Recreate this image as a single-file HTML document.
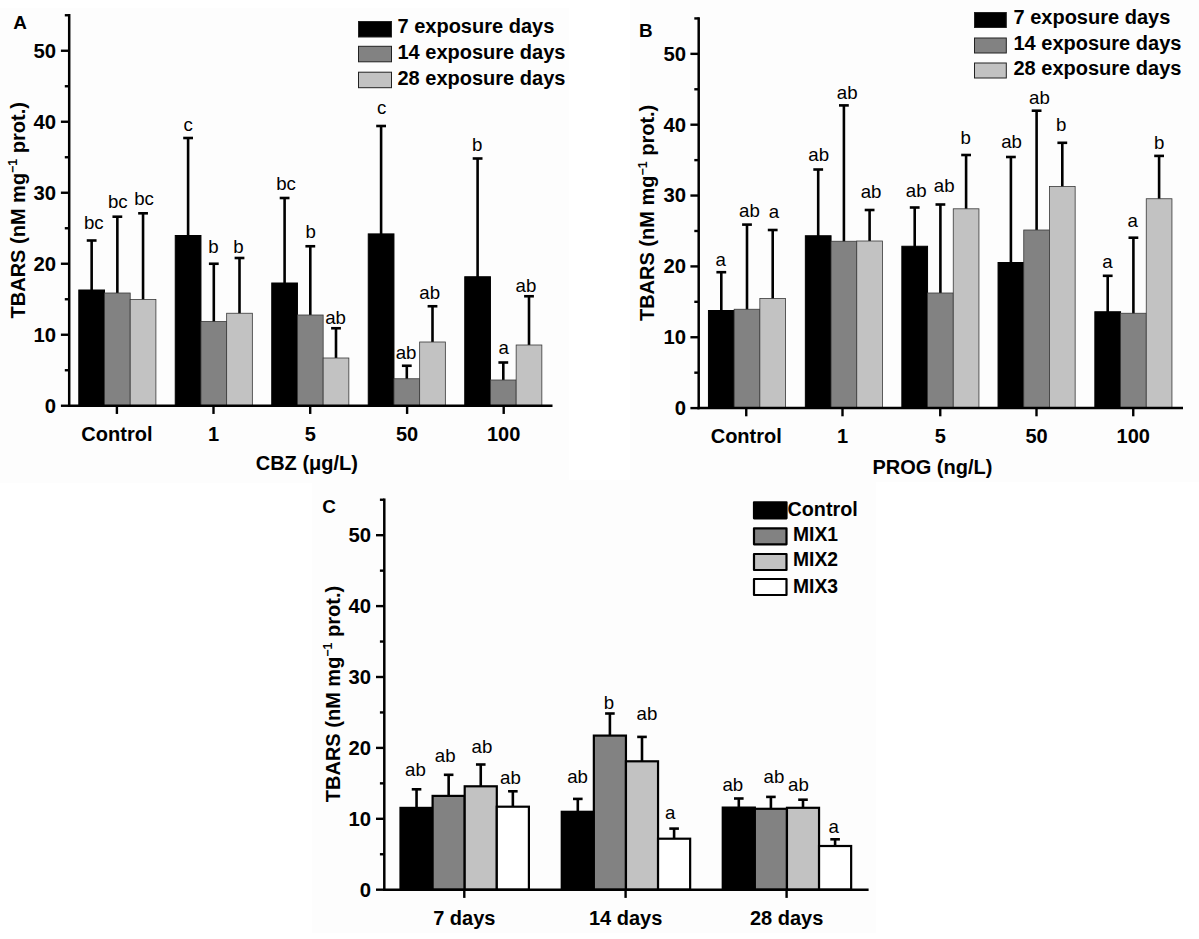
<!DOCTYPE html>
<html lang="en"><head><meta charset="utf-8"><title>TBARS figure</title>
<style>html,body{margin:0;padding:0;background:#fff}body{width:1199px;height:939px;overflow:hidden}svg{display:block;font-family:"Liberation Sans", sans-serif;fill:#000}</style></head><body>
<svg width="1199" height="939" viewBox="0 0 1199 939" role="img" aria-label="TBARS bar charts">
<rect x="0" y="0" width="1199" height="939" fill="#ffffff"/>
<g>
<rect x="0" y="8" width="569" height="475" fill="#fdfdfd"/>
<line x1="91.65" y1="240.5" x2="91.65" y2="292" stroke="#000" stroke-width="2.6"/>
<line x1="86.75" y1="240.5" x2="96.55" y2="240.5" stroke="#000" stroke-width="2.6"/>
<rect x="78.8" y="290" width="25.7" height="115.75" fill="#000000" stroke="#000" stroke-width="1"/>
<line x1="117.35" y1="216.7" x2="117.35" y2="295" stroke="#000" stroke-width="2.6"/>
<line x1="112.45" y1="216.7" x2="122.25" y2="216.7" stroke="#000" stroke-width="2.6"/>
<rect x="104.5" y="293" width="25.7" height="112.75" fill="#828282" stroke="#383838" stroke-width="0.8"/>
<line x1="143.05" y1="213.3" x2="143.05" y2="301.5" stroke="#000" stroke-width="2.6"/>
<line x1="138.15" y1="213.3" x2="147.95" y2="213.3" stroke="#000" stroke-width="2.6"/>
<rect x="130.2" y="299.5" width="25.7" height="106.25" fill="#c2c2c2" stroke="#383838" stroke-width="0.8"/>
<line x1="188.1" y1="138" x2="188.1" y2="237.5" stroke="#000" stroke-width="2.6"/>
<line x1="183.2" y1="138" x2="193" y2="138" stroke="#000" stroke-width="2.6"/>
<rect x="175.25" y="235.5" width="25.7" height="170.25" fill="#000000" stroke="#000" stroke-width="1"/>
<line x1="213.8" y1="263.75" x2="213.8" y2="323.5" stroke="#000" stroke-width="2.6"/>
<line x1="208.9" y1="263.75" x2="218.7" y2="263.75" stroke="#000" stroke-width="2.6"/>
<rect x="200.95" y="321.5" width="25.7" height="84.25" fill="#828282" stroke="#383838" stroke-width="0.8"/>
<line x1="239.5" y1="258" x2="239.5" y2="315.25" stroke="#000" stroke-width="2.6"/>
<line x1="234.6" y1="258" x2="244.4" y2="258" stroke="#000" stroke-width="2.6"/>
<rect x="226.65" y="313.25" width="25.7" height="92.5" fill="#c2c2c2" stroke="#383838" stroke-width="0.8"/>
<line x1="284.6" y1="198" x2="284.6" y2="285" stroke="#000" stroke-width="2.6"/>
<line x1="279.7" y1="198" x2="289.5" y2="198" stroke="#000" stroke-width="2.6"/>
<rect x="271.75" y="283" width="25.7" height="122.75" fill="#000000" stroke="#000" stroke-width="1"/>
<line x1="310.3" y1="246.25" x2="310.3" y2="317" stroke="#000" stroke-width="2.6"/>
<line x1="305.4" y1="246.25" x2="315.2" y2="246.25" stroke="#000" stroke-width="2.6"/>
<rect x="297.45" y="315" width="25.7" height="90.75" fill="#828282" stroke="#383838" stroke-width="0.8"/>
<line x1="336" y1="328.25" x2="336" y2="360" stroke="#000" stroke-width="2.6"/>
<line x1="331.1" y1="328.25" x2="340.9" y2="328.25" stroke="#000" stroke-width="2.6"/>
<rect x="323.15" y="358" width="25.7" height="47.75" fill="#c2c2c2" stroke="#383838" stroke-width="0.8"/>
<line x1="381.1" y1="126" x2="381.1" y2="235.9" stroke="#000" stroke-width="2.6"/>
<line x1="376.2" y1="126" x2="386" y2="126" stroke="#000" stroke-width="2.6"/>
<rect x="368.25" y="233.9" width="25.7" height="171.85" fill="#000000" stroke="#000" stroke-width="1"/>
<line x1="406.8" y1="365.75" x2="406.8" y2="380.75" stroke="#000" stroke-width="2.6"/>
<line x1="401.9" y1="365.75" x2="411.7" y2="365.75" stroke="#000" stroke-width="2.6"/>
<rect x="393.95" y="378.75" width="25.7" height="27" fill="#828282" stroke="#383838" stroke-width="0.8"/>
<line x1="432.5" y1="306.25" x2="432.5" y2="344" stroke="#000" stroke-width="2.6"/>
<line x1="427.6" y1="306.25" x2="437.4" y2="306.25" stroke="#000" stroke-width="2.6"/>
<rect x="419.65" y="342" width="25.7" height="63.75" fill="#c2c2c2" stroke="#383838" stroke-width="0.8"/>
<line x1="477.6" y1="158.5" x2="477.6" y2="278.75" stroke="#000" stroke-width="2.6"/>
<line x1="472.7" y1="158.5" x2="482.5" y2="158.5" stroke="#000" stroke-width="2.6"/>
<rect x="464.75" y="276.75" width="25.7" height="129" fill="#000000" stroke="#000" stroke-width="1"/>
<line x1="503.3" y1="362.5" x2="503.3" y2="382" stroke="#000" stroke-width="2.6"/>
<line x1="498.4" y1="362.5" x2="508.2" y2="362.5" stroke="#000" stroke-width="2.6"/>
<rect x="490.45" y="380" width="25.7" height="25.75" fill="#828282" stroke="#383838" stroke-width="0.8"/>
<line x1="529" y1="296.25" x2="529" y2="347" stroke="#000" stroke-width="2.6"/>
<line x1="524.1" y1="296.25" x2="533.9" y2="296.25" stroke="#000" stroke-width="2.6"/>
<rect x="516.15" y="345" width="25.7" height="60.75" fill="#c2c2c2" stroke="#383838" stroke-width="0.8"/>
<line x1="69.2" y1="14.05" x2="69.2" y2="407" stroke="#000" stroke-width="2.5"/>
<line x1="67.95" y1="405.75" x2="552.5" y2="405.75" stroke="#000" stroke-width="2.5"/>
<line x1="60.9" y1="405.75" x2="69.2" y2="405.75" stroke="#000" stroke-width="2.4"/>
<text x="56" y="412.65" font-size="20.3" font-weight="bold" text-anchor="end">0</text>
<line x1="64.8" y1="370.25" x2="69.2" y2="370.25" stroke="#000" stroke-width="2.4"/>
<line x1="60.9" y1="334.75" x2="69.2" y2="334.75" stroke="#000" stroke-width="2.4"/>
<text x="56" y="341.65" font-size="20.3" font-weight="bold" text-anchor="end">10</text>
<line x1="64.8" y1="299.25" x2="69.2" y2="299.25" stroke="#000" stroke-width="2.4"/>
<line x1="60.9" y1="263.75" x2="69.2" y2="263.75" stroke="#000" stroke-width="2.4"/>
<text x="56" y="270.65" font-size="20.3" font-weight="bold" text-anchor="end">20</text>
<line x1="64.8" y1="228.25" x2="69.2" y2="228.25" stroke="#000" stroke-width="2.4"/>
<line x1="60.9" y1="192.75" x2="69.2" y2="192.75" stroke="#000" stroke-width="2.4"/>
<text x="56" y="199.65" font-size="20.3" font-weight="bold" text-anchor="end">30</text>
<line x1="64.8" y1="157.25" x2="69.2" y2="157.25" stroke="#000" stroke-width="2.4"/>
<line x1="60.9" y1="121.75" x2="69.2" y2="121.75" stroke="#000" stroke-width="2.4"/>
<text x="56" y="128.65" font-size="20.3" font-weight="bold" text-anchor="end">40</text>
<line x1="64.8" y1="86.25" x2="69.2" y2="86.25" stroke="#000" stroke-width="2.4"/>
<line x1="60.9" y1="50.75" x2="69.2" y2="50.75" stroke="#000" stroke-width="2.4"/>
<text x="56" y="57.65" font-size="20.3" font-weight="bold" text-anchor="end">50</text>
<line x1="64.8" y1="15.25" x2="69.2" y2="15.25" stroke="#000" stroke-width="2.4"/>
<line x1="116.9" y1="405.75" x2="116.9" y2="413.95" stroke="#000" stroke-width="2.4"/>
<text x="116.9" y="441.2" font-size="20" font-weight="bold" text-anchor="middle">Control</text>
<line x1="213.5" y1="405.75" x2="213.5" y2="413.95" stroke="#000" stroke-width="2.4"/>
<text x="213.5" y="441.2" font-size="20" font-weight="bold" text-anchor="middle">1</text>
<line x1="310.2" y1="405.75" x2="310.2" y2="413.95" stroke="#000" stroke-width="2.4"/>
<text x="310.2" y="441.2" font-size="20" font-weight="bold" text-anchor="middle">5</text>
<line x1="407.1" y1="405.75" x2="407.1" y2="413.95" stroke="#000" stroke-width="2.4"/>
<text x="407.1" y="441.2" font-size="20" font-weight="bold" text-anchor="middle">50</text>
<line x1="503.7" y1="405.75" x2="503.7" y2="413.95" stroke="#000" stroke-width="2.4"/>
<text x="503.7" y="441.2" font-size="20" font-weight="bold" text-anchor="middle">100</text>
<text x="93.75" y="229.45" font-size="18.67" font-weight="normal" text-anchor="middle">bc</text>
<text x="117.75" y="207.7" font-size="18.67" font-weight="normal" text-anchor="middle">bc</text>
<text x="144.1" y="205.2" font-size="18.67" font-weight="normal" text-anchor="middle">bc</text>
<text x="188.1" y="131.2" font-size="18.67" font-weight="normal" text-anchor="middle">c</text>
<text x="213.5" y="252.7" font-size="18.67" font-weight="normal" text-anchor="middle">b</text>
<text x="238.4" y="252.7" font-size="18.67" font-weight="normal" text-anchor="middle">b</text>
<text x="286" y="189.95" font-size="18.67" font-weight="normal" text-anchor="middle">bc</text>
<text x="310.6" y="238.2" font-size="18.67" font-weight="normal" text-anchor="middle">b</text>
<text x="335.6" y="323.7" font-size="18.67" font-weight="normal" text-anchor="middle">ab</text>
<text x="381.6" y="114.45" font-size="18.67" font-weight="normal" text-anchor="middle">c</text>
<text x="406.1" y="359.45" font-size="18.67" font-weight="normal" text-anchor="middle">ab</text>
<text x="429.75" y="299.45" font-size="18.67" font-weight="normal" text-anchor="middle">ab</text>
<text x="477.25" y="151.45" font-size="18.67" font-weight="normal" text-anchor="middle">b</text>
<text x="503.75" y="353.7" font-size="18.67" font-weight="normal" text-anchor="middle">a</text>
<text x="525.9" y="291.95" font-size="18.67" font-weight="normal" text-anchor="middle">ab</text>
<text x="306.85" y="470.4" font-size="20" font-weight="bold" text-anchor="middle">CBZ (μg/L)</text>
<text transform="translate(24.8 210.25) rotate(-90)" font-size="20" font-weight="bold" text-anchor="middle">TBARS (nM mg<tspan font-size="12.4" dy="-7.5">−1</tspan><tspan dy="7.5"> prot.)</tspan></text>
<text x="13.2" y="29.1" font-size="18.9" font-weight="bold" text-anchor="start">A</text>
<rect x="358.5" y="21.5" width="33" height="15.5" fill="#000000" stroke="#222" stroke-width="1"/>
<text x="397.5" y="32.5" font-size="20" font-weight="bold" text-anchor="start">7 exposure days</text>
<rect x="358.5" y="46.3" width="33" height="15.5" fill="#828282" stroke="#222" stroke-width="1"/>
<text x="397.5" y="58.75" font-size="20" font-weight="bold" text-anchor="start">14 exposure days</text>
<rect x="358.5" y="72.2" width="33" height="15.5" fill="#c2c2c2" stroke="#222" stroke-width="1"/>
<text x="397.5" y="84.5" font-size="20" font-weight="bold" text-anchor="start">28 exposure days</text>
</g>
<g>
<rect x="630" y="0" width="569" height="482" fill="#fdfdfd"/>
<line x1="721.3" y1="272.2" x2="721.3" y2="312.5" stroke="#000" stroke-width="2.6"/>
<line x1="716.4" y1="272.2" x2="726.2" y2="272.2" stroke="#000" stroke-width="2.6"/>
<rect x="708.45" y="310.5" width="25.7" height="97.6" fill="#000000" stroke="#000" stroke-width="1"/>
<line x1="747" y1="224.6" x2="747" y2="311.25" stroke="#000" stroke-width="2.6"/>
<line x1="742.1" y1="224.6" x2="751.9" y2="224.6" stroke="#000" stroke-width="2.6"/>
<rect x="734.15" y="309.25" width="25.7" height="98.85" fill="#828282" stroke="#383838" stroke-width="0.8"/>
<line x1="772.7" y1="230" x2="772.7" y2="300.5" stroke="#000" stroke-width="2.6"/>
<line x1="767.8" y1="230" x2="777.6" y2="230" stroke="#000" stroke-width="2.6"/>
<rect x="759.85" y="298.5" width="25.7" height="109.6" fill="#c2c2c2" stroke="#383838" stroke-width="0.8"/>
<line x1="818.2" y1="169.5" x2="818.2" y2="237.75" stroke="#000" stroke-width="2.6"/>
<line x1="813.3" y1="169.5" x2="823.1" y2="169.5" stroke="#000" stroke-width="2.6"/>
<rect x="805.35" y="235.75" width="25.7" height="172.35" fill="#000000" stroke="#000" stroke-width="1"/>
<line x1="843.9" y1="105.4" x2="843.9" y2="243.25" stroke="#000" stroke-width="2.6"/>
<line x1="839" y1="105.4" x2="848.8" y2="105.4" stroke="#000" stroke-width="2.6"/>
<rect x="831.05" y="241.25" width="25.7" height="166.85" fill="#828282" stroke="#383838" stroke-width="0.8"/>
<line x1="869.6" y1="210" x2="869.6" y2="243" stroke="#000" stroke-width="2.6"/>
<line x1="864.7" y1="210" x2="874.5" y2="210" stroke="#000" stroke-width="2.6"/>
<rect x="856.75" y="241" width="25.7" height="167.1" fill="#c2c2c2" stroke="#383838" stroke-width="0.8"/>
<line x1="914.7" y1="207.5" x2="914.7" y2="248.25" stroke="#000" stroke-width="2.6"/>
<line x1="909.8" y1="207.5" x2="919.6" y2="207.5" stroke="#000" stroke-width="2.6"/>
<rect x="901.85" y="246.25" width="25.7" height="161.85" fill="#000000" stroke="#000" stroke-width="1"/>
<line x1="940.4" y1="204.5" x2="940.4" y2="295" stroke="#000" stroke-width="2.6"/>
<line x1="935.5" y1="204.5" x2="945.3" y2="204.5" stroke="#000" stroke-width="2.6"/>
<rect x="927.55" y="293" width="25.7" height="115.1" fill="#828282" stroke="#383838" stroke-width="0.8"/>
<line x1="966.1" y1="155" x2="966.1" y2="210.8" stroke="#000" stroke-width="2.6"/>
<line x1="961.2" y1="155" x2="971" y2="155" stroke="#000" stroke-width="2.6"/>
<rect x="953.25" y="208.8" width="25.7" height="199.3" fill="#c2c2c2" stroke="#383838" stroke-width="0.8"/>
<line x1="1010.9" y1="157" x2="1010.9" y2="264.5" stroke="#000" stroke-width="2.6"/>
<line x1="1006" y1="157" x2="1015.8" y2="157" stroke="#000" stroke-width="2.6"/>
<rect x="998.05" y="262.5" width="25.7" height="145.6" fill="#000000" stroke="#000" stroke-width="1"/>
<line x1="1036.6" y1="110.7" x2="1036.6" y2="232" stroke="#000" stroke-width="2.6"/>
<line x1="1031.7" y1="110.7" x2="1041.5" y2="110.7" stroke="#000" stroke-width="2.6"/>
<rect x="1023.75" y="230" width="25.7" height="178.1" fill="#828282" stroke="#383838" stroke-width="0.8"/>
<line x1="1062.3" y1="142.8" x2="1062.3" y2="188.5" stroke="#000" stroke-width="2.6"/>
<line x1="1057.4" y1="142.8" x2="1067.2" y2="142.8" stroke="#000" stroke-width="2.6"/>
<rect x="1049.45" y="186.5" width="25.7" height="221.6" fill="#c2c2c2" stroke="#383838" stroke-width="0.8"/>
<line x1="1107.7" y1="275.8" x2="1107.7" y2="313.75" stroke="#000" stroke-width="2.6"/>
<line x1="1102.8" y1="275.8" x2="1112.6" y2="275.8" stroke="#000" stroke-width="2.6"/>
<rect x="1094.85" y="311.75" width="25.7" height="96.35" fill="#000000" stroke="#000" stroke-width="1"/>
<line x1="1133.4" y1="237.7" x2="1133.4" y2="315.25" stroke="#000" stroke-width="2.6"/>
<line x1="1128.5" y1="237.7" x2="1138.3" y2="237.7" stroke="#000" stroke-width="2.6"/>
<rect x="1120.55" y="313.25" width="25.7" height="94.85" fill="#828282" stroke="#383838" stroke-width="0.8"/>
<line x1="1159.1" y1="155.9" x2="1159.1" y2="200.75" stroke="#000" stroke-width="2.6"/>
<line x1="1154.2" y1="155.9" x2="1164" y2="155.9" stroke="#000" stroke-width="2.6"/>
<rect x="1146.25" y="198.75" width="25.7" height="209.35" fill="#c2c2c2" stroke="#383838" stroke-width="0.8"/>
<line x1="698.7" y1="17.23" x2="698.7" y2="409.35" stroke="#000" stroke-width="2.5"/>
<line x1="697.45" y1="408.1" x2="1183" y2="408.1" stroke="#000" stroke-width="2.5"/>
<line x1="690.4" y1="408.1" x2="698.7" y2="408.1" stroke="#000" stroke-width="2.4"/>
<text x="686.1" y="415" font-size="20.3" font-weight="bold" text-anchor="end">0</text>
<line x1="694.3" y1="372.68" x2="698.7" y2="372.68" stroke="#000" stroke-width="2.4"/>
<line x1="690.4" y1="337.25" x2="698.7" y2="337.25" stroke="#000" stroke-width="2.4"/>
<text x="686.1" y="344.15" font-size="20.3" font-weight="bold" text-anchor="end">10</text>
<line x1="694.3" y1="301.83" x2="698.7" y2="301.83" stroke="#000" stroke-width="2.4"/>
<line x1="690.4" y1="266.4" x2="698.7" y2="266.4" stroke="#000" stroke-width="2.4"/>
<text x="686.1" y="273.3" font-size="20.3" font-weight="bold" text-anchor="end">20</text>
<line x1="694.3" y1="230.98" x2="698.7" y2="230.98" stroke="#000" stroke-width="2.4"/>
<line x1="690.4" y1="195.55" x2="698.7" y2="195.55" stroke="#000" stroke-width="2.4"/>
<text x="686.1" y="202.45" font-size="20.3" font-weight="bold" text-anchor="end">30</text>
<line x1="694.3" y1="160.13" x2="698.7" y2="160.13" stroke="#000" stroke-width="2.4"/>
<line x1="690.4" y1="124.7" x2="698.7" y2="124.7" stroke="#000" stroke-width="2.4"/>
<text x="686.1" y="131.6" font-size="20.3" font-weight="bold" text-anchor="end">40</text>
<line x1="694.3" y1="89.28" x2="698.7" y2="89.28" stroke="#000" stroke-width="2.4"/>
<line x1="690.4" y1="53.85" x2="698.7" y2="53.85" stroke="#000" stroke-width="2.4"/>
<text x="686.1" y="60.75" font-size="20.3" font-weight="bold" text-anchor="end">50</text>
<line x1="694.3" y1="18.43" x2="698.7" y2="18.43" stroke="#000" stroke-width="2.4"/>
<line x1="746.25" y1="408.1" x2="746.25" y2="416.3" stroke="#000" stroke-width="2.4"/>
<text x="746.25" y="443" font-size="20" font-weight="bold" text-anchor="middle">Control</text>
<line x1="842.5" y1="408.1" x2="842.5" y2="416.3" stroke="#000" stroke-width="2.4"/>
<text x="842.5" y="443" font-size="20" font-weight="bold" text-anchor="middle">1</text>
<line x1="940.25" y1="408.1" x2="940.25" y2="416.3" stroke="#000" stroke-width="2.4"/>
<text x="940.25" y="443" font-size="20" font-weight="bold" text-anchor="middle">5</text>
<line x1="1036.5" y1="408.1" x2="1036.5" y2="416.3" stroke="#000" stroke-width="2.4"/>
<text x="1036.5" y="443" font-size="20" font-weight="bold" text-anchor="middle">50</text>
<line x1="1133.25" y1="408.1" x2="1133.25" y2="416.3" stroke="#000" stroke-width="2.4"/>
<text x="1133.25" y="443" font-size="20" font-weight="bold" text-anchor="middle">100</text>
<text x="720.6" y="265.7" font-size="18.67" font-weight="normal" text-anchor="middle">a</text>
<text x="749.4" y="216.95" font-size="18.67" font-weight="normal" text-anchor="middle">ab</text>
<text x="774" y="218.2" font-size="18.67" font-weight="normal" text-anchor="middle">a</text>
<text x="818.75" y="161.2" font-size="18.67" font-weight="normal" text-anchor="middle">ab</text>
<text x="847.25" y="98.7" font-size="18.67" font-weight="normal" text-anchor="middle">ab</text>
<text x="871.1" y="198.2" font-size="18.67" font-weight="normal" text-anchor="middle">ab</text>
<text x="916.25" y="196.95" font-size="18.67" font-weight="normal" text-anchor="middle">ab</text>
<text x="944.25" y="191.95" font-size="18.67" font-weight="normal" text-anchor="middle">ab</text>
<text x="965.6" y="143.7" font-size="18.67" font-weight="normal" text-anchor="middle">b</text>
<text x="1011.6" y="148.2" font-size="18.67" font-weight="normal" text-anchor="middle">ab</text>
<text x="1039.4" y="103.7" font-size="18.67" font-weight="normal" text-anchor="middle">ab</text>
<text x="1061.25" y="130.7" font-size="18.67" font-weight="normal" text-anchor="middle">b</text>
<text x="1107.5" y="268.2" font-size="18.67" font-weight="normal" text-anchor="middle">a</text>
<text x="1132.75" y="226.95" font-size="18.67" font-weight="normal" text-anchor="middle">a</text>
<text x="1159.25" y="149.45" font-size="18.67" font-weight="normal" text-anchor="middle">b</text>
<text x="932.4" y="474.4" font-size="20" font-weight="bold" text-anchor="middle">PROG (ng/L)</text>
<text transform="translate(654.2 212.9) rotate(-90)" font-size="20" font-weight="bold" text-anchor="middle">TBARS (nM mg<tspan font-size="12.4" dy="-7.5">−1</tspan><tspan dy="7.5"> prot.)</tspan></text>
<text x="638.9" y="37.4" font-size="18.9" font-weight="bold" text-anchor="start">B</text>
<rect x="974.5" y="12.5" width="31.8" height="15" fill="#000000" stroke="#222" stroke-width="1"/>
<text x="1013.5" y="24.1" font-size="20" font-weight="bold" text-anchor="start">7 exposure days</text>
<rect x="974.5" y="38" width="31.8" height="15" fill="#828282" stroke="#222" stroke-width="1"/>
<text x="1013.5" y="49.6" font-size="20" font-weight="bold" text-anchor="start">14 exposure days</text>
<rect x="974.5" y="63" width="31.8" height="15" fill="#c2c2c2" stroke="#222" stroke-width="1"/>
<text x="1013.5" y="74.9" font-size="20" font-weight="bold" text-anchor="start">28 exposure days</text>
</g>
<g>
<rect x="312" y="480" width="564" height="453" fill="#fdfdfd"/>
<line x1="416.55" y1="789.3" x2="416.55" y2="808.8" stroke="#000" stroke-width="2.6"/>
<line x1="411.75" y1="789.3" x2="421.35" y2="789.3" stroke="#000" stroke-width="2.6"/>
<rect x="400.5" y="807.9" width="32.1" height="81.8" fill="#000000" stroke="#000" stroke-width="2.2"/>
<line x1="448.65" y1="774.8" x2="448.65" y2="797.9" stroke="#000" stroke-width="2.6"/>
<line x1="443.85" y1="774.8" x2="453.45" y2="774.8" stroke="#000" stroke-width="2.6"/>
<rect x="432.6" y="795.9" width="32.1" height="93.8" fill="#828282" stroke="#000" stroke-width="2.2"/>
<line x1="480.75" y1="764.5" x2="480.75" y2="788.3" stroke="#000" stroke-width="2.6"/>
<line x1="475.95" y1="764.5" x2="485.55" y2="764.5" stroke="#000" stroke-width="2.6"/>
<rect x="464.7" y="786.3" width="32.1" height="103.4" fill="#c2c2c2" stroke="#000" stroke-width="2.2"/>
<line x1="512.85" y1="791.3" x2="512.85" y2="808.7" stroke="#000" stroke-width="2.6"/>
<line x1="508.05" y1="791.3" x2="517.65" y2="791.3" stroke="#000" stroke-width="2.6"/>
<rect x="496.8" y="806.7" width="32.1" height="83" fill="#ffffff" stroke="#000" stroke-width="2.2"/>
<line x1="577.8" y1="798.9" x2="577.8" y2="812.7" stroke="#000" stroke-width="2.6"/>
<line x1="573" y1="798.9" x2="582.6" y2="798.9" stroke="#000" stroke-width="2.6"/>
<rect x="561.75" y="811.8" width="32.1" height="77.9" fill="#000000" stroke="#000" stroke-width="2.2"/>
<line x1="609.9" y1="713.5" x2="609.9" y2="737.6" stroke="#000" stroke-width="2.6"/>
<line x1="605.1" y1="713.5" x2="614.7" y2="713.5" stroke="#000" stroke-width="2.6"/>
<rect x="593.85" y="735.6" width="32.1" height="154.1" fill="#828282" stroke="#000" stroke-width="2.2"/>
<line x1="642" y1="736.9" x2="642" y2="763.3" stroke="#000" stroke-width="2.6"/>
<line x1="637.2" y1="736.9" x2="646.8" y2="736.9" stroke="#000" stroke-width="2.6"/>
<rect x="625.95" y="761.3" width="32.1" height="128.4" fill="#c2c2c2" stroke="#000" stroke-width="2.2"/>
<line x1="674.1" y1="828.6" x2="674.1" y2="840.7" stroke="#000" stroke-width="2.6"/>
<line x1="669.3" y1="828.6" x2="678.9" y2="828.6" stroke="#000" stroke-width="2.6"/>
<rect x="658.05" y="838.7" width="32.1" height="51" fill="#ffffff" stroke="#000" stroke-width="2.2"/>
<line x1="738.8" y1="798.5" x2="738.8" y2="808.5" stroke="#000" stroke-width="2.6"/>
<line x1="734" y1="798.5" x2="743.6" y2="798.5" stroke="#000" stroke-width="2.6"/>
<rect x="722.75" y="807.6" width="32.1" height="82.1" fill="#000000" stroke="#000" stroke-width="2.2"/>
<line x1="770.9" y1="796.9" x2="770.9" y2="810.8" stroke="#000" stroke-width="2.6"/>
<line x1="766.1" y1="796.9" x2="775.7" y2="796.9" stroke="#000" stroke-width="2.6"/>
<rect x="754.85" y="808.8" width="32.1" height="80.9" fill="#828282" stroke="#000" stroke-width="2.2"/>
<line x1="803" y1="799.7" x2="803" y2="809.8" stroke="#000" stroke-width="2.6"/>
<line x1="798.2" y1="799.7" x2="807.8" y2="799.7" stroke="#000" stroke-width="2.6"/>
<rect x="786.95" y="807.8" width="32.1" height="81.9" fill="#c2c2c2" stroke="#000" stroke-width="2.2"/>
<line x1="835.1" y1="839.3" x2="835.1" y2="848" stroke="#000" stroke-width="2.6"/>
<line x1="830.3" y1="839.3" x2="839.9" y2="839.3" stroke="#000" stroke-width="2.6"/>
<rect x="819.05" y="846" width="32.1" height="43.7" fill="#ffffff" stroke="#000" stroke-width="2.2"/>
<line x1="384.3" y1="498.55" x2="384.3" y2="890.95" stroke="#000" stroke-width="2.5"/>
<line x1="383.05" y1="889.7" x2="868.6" y2="889.7" stroke="#000" stroke-width="2.5"/>
<line x1="376" y1="889.7" x2="384.3" y2="889.7" stroke="#000" stroke-width="2.4"/>
<text x="371" y="896.6" font-size="20.3" font-weight="bold" text-anchor="end">0</text>
<line x1="379.9" y1="854.25" x2="384.3" y2="854.25" stroke="#000" stroke-width="2.4"/>
<line x1="376" y1="818.8" x2="384.3" y2="818.8" stroke="#000" stroke-width="2.4"/>
<text x="371" y="825.7" font-size="20.3" font-weight="bold" text-anchor="end">10</text>
<line x1="379.9" y1="783.35" x2="384.3" y2="783.35" stroke="#000" stroke-width="2.4"/>
<line x1="376" y1="747.9" x2="384.3" y2="747.9" stroke="#000" stroke-width="2.4"/>
<text x="371" y="754.8" font-size="20.3" font-weight="bold" text-anchor="end">20</text>
<line x1="379.9" y1="712.45" x2="384.3" y2="712.45" stroke="#000" stroke-width="2.4"/>
<line x1="376" y1="677" x2="384.3" y2="677" stroke="#000" stroke-width="2.4"/>
<text x="371" y="683.9" font-size="20.3" font-weight="bold" text-anchor="end">30</text>
<line x1="379.9" y1="641.55" x2="384.3" y2="641.55" stroke="#000" stroke-width="2.4"/>
<line x1="376" y1="606.1" x2="384.3" y2="606.1" stroke="#000" stroke-width="2.4"/>
<text x="371" y="613" font-size="20.3" font-weight="bold" text-anchor="end">40</text>
<line x1="379.9" y1="570.65" x2="384.3" y2="570.65" stroke="#000" stroke-width="2.4"/>
<line x1="376" y1="535.2" x2="384.3" y2="535.2" stroke="#000" stroke-width="2.4"/>
<text x="371" y="542.1" font-size="20.3" font-weight="bold" text-anchor="end">50</text>
<line x1="379.9" y1="499.75" x2="384.3" y2="499.75" stroke="#000" stroke-width="2.4"/>
<line x1="464.3" y1="889.7" x2="464.3" y2="897.9" stroke="#000" stroke-width="2.4"/>
<text x="464.3" y="924.5" font-size="20" font-weight="bold" text-anchor="middle">7 days</text>
<line x1="625.6" y1="889.7" x2="625.6" y2="897.9" stroke="#000" stroke-width="2.4"/>
<text x="625.6" y="924.5" font-size="20" font-weight="bold" text-anchor="middle">14 days</text>
<line x1="786.6" y1="889.7" x2="786.6" y2="897.9" stroke="#000" stroke-width="2.4"/>
<text x="786.6" y="924.5" font-size="20" font-weight="bold" text-anchor="middle">28 days</text>
<text x="415.4" y="775.8" font-size="18.67" font-weight="normal" text-anchor="middle">ab</text>
<text x="445.2" y="762.3" font-size="18.67" font-weight="normal" text-anchor="middle">ab</text>
<text x="482" y="752.7" font-size="18.67" font-weight="normal" text-anchor="middle">ab</text>
<text x="510.5" y="784.2" font-size="18.67" font-weight="normal" text-anchor="middle">ab</text>
<text x="577.6" y="782.5" font-size="18.67" font-weight="normal" text-anchor="middle">ab</text>
<text x="609" y="708.8" font-size="18.67" font-weight="normal" text-anchor="middle">b</text>
<text x="647" y="720.1" font-size="18.67" font-weight="normal" text-anchor="middle">ab</text>
<text x="670.2" y="819.3" font-size="18.67" font-weight="normal" text-anchor="middle">a</text>
<text x="732.8" y="790.6" font-size="18.67" font-weight="normal" text-anchor="middle">ab</text>
<text x="773.9" y="782.7" font-size="18.67" font-weight="normal" text-anchor="middle">ab</text>
<text x="798.5" y="790.6" font-size="18.67" font-weight="normal" text-anchor="middle">ab</text>
<text x="833.7" y="833.1" font-size="18.67" font-weight="normal" text-anchor="middle">a</text>
<text transform="translate(339.8 694) rotate(-90)" font-size="20" font-weight="bold" text-anchor="middle">TBARS (nM mg<tspan font-size="12.4" dy="-7.5">−1</tspan><tspan dy="7.5"> prot.)</tspan></text>
<text x="322.3" y="512.8" font-size="18.9" font-weight="bold" text-anchor="start">C</text>
<rect x="754" y="502.3" width="32.5" height="16" fill="#000000" stroke="#000" stroke-width="2.2" stroke-linejoin="round"/>
<text x="787.5" y="516.25" font-size="19.8" font-weight="bold" text-anchor="start">Control</text>
<rect x="754" y="528.3" width="32.5" height="16" fill="#828282" stroke="#000" stroke-width="2.2" stroke-linejoin="round"/>
<text x="793" y="541.25" font-size="19.3" font-weight="bold" text-anchor="start">MIX1</text>
<rect x="754" y="554" width="32.5" height="16" fill="#c2c2c2" stroke="#000" stroke-width="2.2" stroke-linejoin="round"/>
<text x="793" y="566.25" font-size="19.3" font-weight="bold" text-anchor="start">MIX2</text>
<rect x="754" y="579" width="32.5" height="16" fill="#ffffff" stroke="#000" stroke-width="2.2" stroke-linejoin="round"/>
<text x="793" y="592.5" font-size="19.3" font-weight="bold" text-anchor="start">MIX3</text>
</g>
</svg></body></html>
